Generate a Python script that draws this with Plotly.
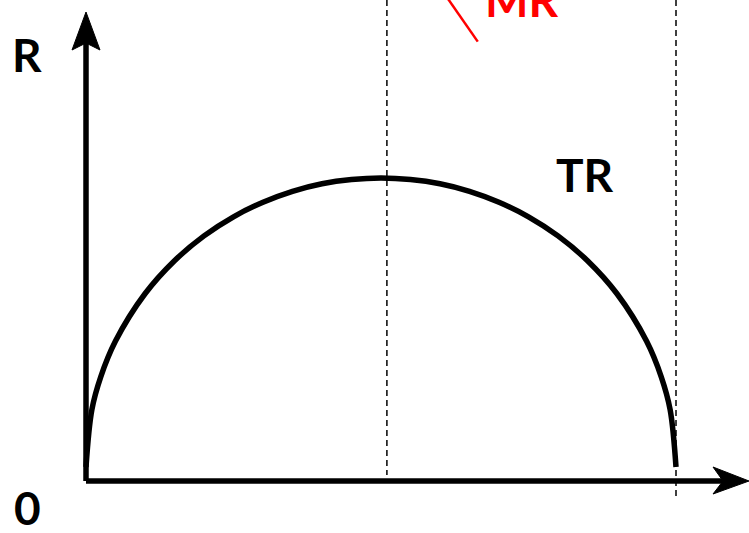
import plotly.graph_objects as go

# Quantity (x) and total revenue (y)
quantity = [0, 0.1, 0.25, 0.5, 1, 1.5, 2, 2.5, 3, 3.5, 4, 4.5, 5,
            5.5, 6, 6.5, 7, 7.5, 8, 8.5, 9, 9.5, 9.75, 9.9, 10]
total_revenue = [0.46, 2.36, 3.44, 4.62, 6.18, 7.27, 8.09, 8.72, 9.20, 9.56, 9.81, 9.95, 10.0,
                 9.95, 9.81, 9.56, 9.20, 8.72, 8.09, 7.27, 6.18, 4.62, 3.44, 2.36, 0.46]

# Reference quantities (dashed guides)
q_max_tr = 5.1
q_zero_tr = 10.0

# MR pointer segment (partially visible at top)
mr_q = [6.14, 6.64]
mr_r = [15.9, 14.5]

labels = {"R": (-1.0, 14.08), "0": (-1.0, -0.88), "TR": (8.46, 10.1), "MR": (7.38, 15.8)}
label_shift = {"MR": 3}

X_RANGE = [-86 / 59, (749 - 86) / 59]
Y_RANGE = [(481 - 533) / 30.3, 481 / 30.3]

fig = go.Figure()

# dashed guides
fig.add_trace(go.Scatter(x=[q_max_tr, q_max_tr], y=[Y_RANGE[1], 0.2], mode="lines",
                         line=dict(color="black", width=1.5, dash="6px,4px"), hoverinfo="skip"))
fig.add_trace(go.Scatter(x=[q_zero_tr, q_zero_tr], y=[Y_RANGE[1], -0.5], mode="lines",
                         line=dict(color="black", width=1.5, dash="6px,4px"), hoverinfo="skip"))

# axes
fig.add_trace(go.Scatter(x=[0, 0], y=[0, 14.6], mode="lines",
                         line=dict(color="black", width=5.5), hoverinfo="skip"))
fig.add_trace(go.Scatter(x=[0, 10.8], y=[0, 0], mode="lines",
                         line=dict(color="black", width=5.5), hoverinfo="skip"))

# TR curve
fig.add_trace(go.Scatter(x=quantity, y=total_revenue, mode="lines",
                         line=dict(color="black", width=5.5, shape="spline", smoothing=1.0),
                         hoverinfo="skip"))

# MR pointer
fig.add_trace(go.Scatter(x=mr_q, y=mr_r, mode="lines",
                         line=dict(color="#ff0000", width=2.5), hoverinfo="skip"))

def px_to_data(px, py):
    return (px - 86) / 59, (481 - py) / 30.3

def arrow_path(points):
    pts = [px_to_data(*p) for p in points]
    s = "M " + " L ".join(f"{x:.4f},{y:.4f}" for x, y in pts) + " Z"
    return s

# y-axis arrowhead
fig.add_shape(type="path", path=arrow_path([(86, 12), (100, 50), (86, 43), (72, 50)]),
              fillcolor="black", line=dict(color="black", width=1), layer="above")
# x-axis arrowhead
fig.add_shape(type="path", path=arrow_path([(749, 481), (713, 494), (723, 481), (713, 467)]),
              fillcolor="black", line=dict(color="black", width=1), layer="above")

for text, (x, y) in labels.items():
    color = "#ff0000" if text == "MR" else "black"
    fig.add_annotation(x=x, y=y, text=f"<b>{text}</b>", showarrow=False,
                       font=dict(family="Lato", size=46, color=color),
                       xanchor="center", yanchor="middle", yshift=label_shift.get(text, 0))

fig.update_layout(
    width=749, height=533,
    margin=dict(l=0, r=0, t=0, b=0),
    paper_bgcolor="white", plot_bgcolor="white",
    showlegend=False,
    xaxis=dict(range=X_RANGE, visible=False, fixedrange=True),
    yaxis=dict(range=Y_RANGE, visible=False, fixedrange=True),
)

fig.write_html("out.html", config={"displayModeBar": False},
               post_script="document.body.style.margin='0px';document.body.style.overflow='hidden';")
